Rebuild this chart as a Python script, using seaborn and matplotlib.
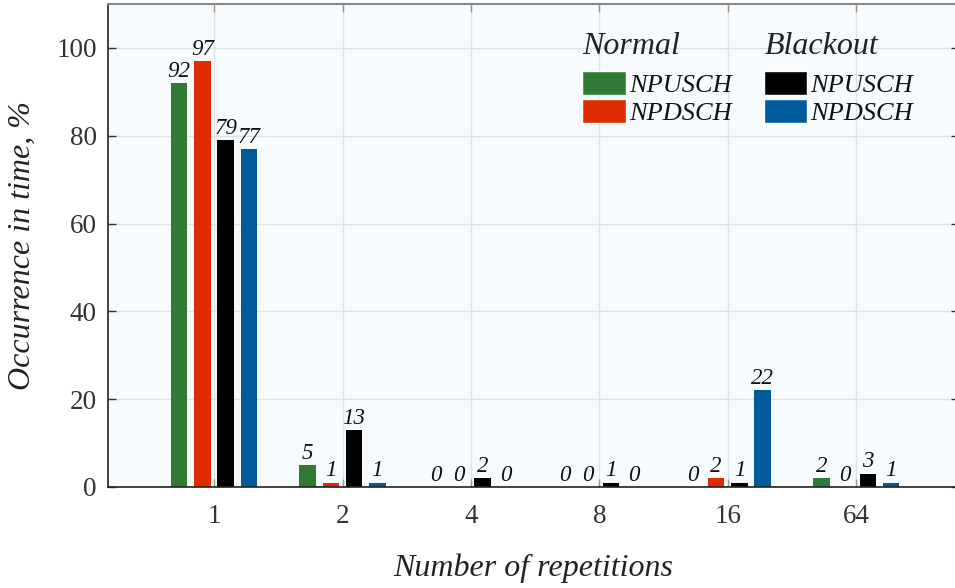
import matplotlib
matplotlib.use("Agg")
import matplotlib.pyplot as plt
from matplotlib.patches import Patch
import seaborn as sns
import pandas as pd

categories = ["1", "2", "4", "8", "16", "64"]
normal_npusch = [92, 5, 0, 0, 0, 2]
normal_npdsch = [97, 1, 0, 0, 2, 0]
blackout_npusch = [79, 13, 2, 1, 1, 3]
blackout_npdsch = [77, 1, 0, 0, 22, 1]
series_names = ["Normal NPUSCH", "Normal NPDSCH", "Blackout NPUSCH", "Blackout NPDSCH"]
colors = ["#317a33", "#dd2c00", "#000000", "#005a9c"]

rows = []
for name, vals in zip(series_names, [normal_npusch, normal_npdsch, blackout_npusch, blackout_npdsch]):
    for c, v in zip(categories, vals):
        rows.append({"rep": c, "value": v, "series": name})
df = pd.DataFrame(rows)

sns.set_theme(style="white")
plt.rcParams["font.family"] = ["Liberation Serif", "DejaVu Serif"]

fig = plt.figure(figsize=(9.55, 5.88), dpi=100)
ax = fig.add_axes([108/955, 1-487/588, 851/955, 483/588])
ax.set_facecolor("#f7fbfe")

sns.barplot(data=df, x="rep", y="value", hue="series", order=categories,
            hue_order=series_names, palette=colors, width=0.724, gap=0.29,
            ax=ax, legend=False, saturation=1, edgecolor="none", linewidth=0)

for cont in ax.containers:
    ax.bar_label(cont, fmt="%d", padding=1, fontsize=16.5, fontstyle="italic", color="#111111")

ax.set_ylim(0, 110)
ax.set_xlim(-0.826, 5.80)
ax.set_yticks([0, 20, 40, 60, 80, 100])
ax.grid(True, color="#dfe3e8", linewidth=1)
ax.set_axisbelow(True)

ax.tick_params(axis="y", direction="in", length=6, width=1, colors="#333333",
               labelsize=19.5, pad=8, right=True, left=True)
ax.tick_params(axis="x", direction="in", length=6, width=1, colors="#999999",
               labelcolor="#333333", labelsize=19.5, pad=12, top=True, bottom=True)

for s in ["left", "bottom"]:
    ax.spines[s].set_color("#222222")
    ax.spines[s].set_linewidth(1.2)
ax.spines["top"].set_color("#888888")
ax.spines["top"].set_linewidth(1.5)
ax.spines["right"].set_visible(False)

ax.set_xlabel("Number of repetitions", fontsize=23, fontstyle="italic", color="#222222", labelpad=18)
ax.set_ylabel("Occurrence in time, %", fontsize=23, fontstyle="italic", color="#222222", labelpad=14)

handles = [Patch(facecolor=colors[0]), Patch(facecolor=colors[1]),
           Patch(facecolor=colors[2]), Patch(facecolor=colors[3])]
labels = ["NPUSCH", "NPDSCH", "NPUSCH", "NPDSCH"]
leg = ax.legend(handles, labels, ncol=2, loc="upper left", bbox_to_anchor=((582-108)/851, (487-71)/483),
                frameon=False, prop={"size": 19, "style": "italic"}, handlelength=1.65,
                handleheight=1.0, handletextpad=0.12, columnspacing=1.22, labelspacing=0.1,
                borderaxespad=0, borderpad=0)
for t in leg.get_texts():
    t.set_color("#111111")

ax.text((582-108)/851, (487-46)/483, "Normal", transform=ax.transAxes, fontsize=23,
        fontstyle="italic", color="#222222", va="center", ha="left")
ax.text((765-108)/851, (487-46)/483, "Blackout", transform=ax.transAxes, fontsize=23,
        fontstyle="italic", color="#222222", va="center", ha="left")

fig.savefig("out.png", dpi=100)
